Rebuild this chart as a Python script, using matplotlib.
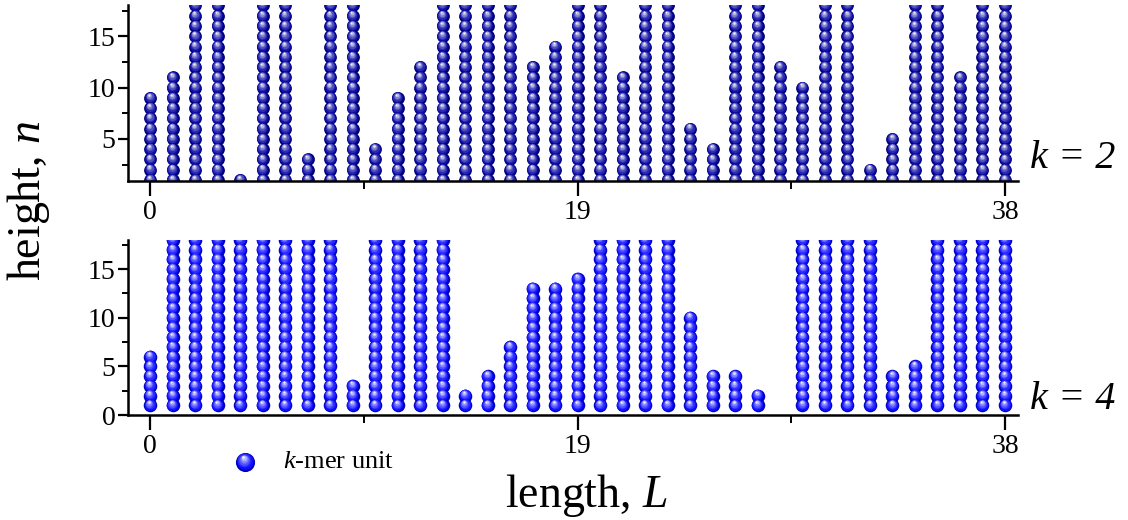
import numpy as np
import matplotlib
matplotlib.use("Agg")
import matplotlib.pyplot as plt
from matplotlib import transforms
from matplotlib.colors import to_rgb

plt.rcParams['font.family'] = ['Liberation Serif', 'DejaVu Serif']
plt.rcParams['mathtext.fontset'] = 'custom'
plt.rcParams['mathtext.rm'] = 'Liberation Serif'
plt.rcParams['mathtext.it'] = 'Liberation Serif:italic'

# column heights; F = column runs past the top of the plot
F = 20
lengths = np.arange(0, 39)
heights_k2 = [9, 11, F, F, 1, F, F, 3, F, F, 4, 9, 12, F, F, F, F, 12, 14, F,
              F, 11, F, F, 6, 4, F, F, 12, 10, F, F, 2, 5, F, F, 11, F, F]
heights_k4 = [6, F, F, F, F, F, F, F, F, 3, F, F, F, F, 2, 4, 7, 13, 13, 14,
              F, F, F, F, 10, 4, 4, 2, 0, F, F, F, F, 4, 5, F, F, F, F]
x_ticks = [0, 19, 38]
x_minor = [9.5, 28.5]
panel_labels = ['k = 2', 'k = 4']

fig = plt.figure(figsize=(11.28, 5.2), dpi=100)
ax1 = fig.add_axes([0.1135, 0.652, 0.789, 0.3385])
ax2 = fig.add_axes([0.1135, 0.2019, 0.789, 0.3366])


def draw_spheres(ax, xs, ys, base, size, transform=None, clip=True):
    # fake a shaded sphere: stacked discs getting lighter toward the highlight
    if transform is None:
        transform = ax.transData
    base = np.array(to_rgb(base))
    white = np.array([1.0, 1.0, 1.0])
    d = np.sqrt(size)  # diameter in points
    nl = 7
    for k in range(nl):
        f = 1 - k / nl
        t = (k / (nl - 1)) ** 1.6 * 0.95
        col = base * (1 - t) + white * t
        if k == 0:
            col = base * 0.75
        off = transforms.ScaledTranslation(-0.10 * d * (1 - f) / 72,
                                           0.30 * d * (1 - f) / 72,
                                           fig.dpi_scale_trans)
        ax.scatter(xs, ys, s=size * f * f, color=col, linewidths=0,
                   transform=transform + off, clip_on=clip, zorder=3 + k)


def draw_panel(ax, heights, base, size, ylim, yticks, label, label_y):
    xs, ys = [], []
    for x, h in zip(lengths, heights):
        for n in range(1, h + 1):
            xs.append(x)
            ys.append(n)
    draw_spheres(ax, xs, ys, base, size)
    ax.set_xlim(-0.98, 38.58)
    ax.set_ylim(*ylim)
    ax.set_xticks(x_ticks)
    ax.set_xticks(x_minor, minor=True)
    ax.set_yticks(yticks)
    ax.set_yticks([2.5, 7.5, 12.5, 17.5], minor=True)
    for s in ['top', 'right']:
        ax.spines[s].set_visible(False)
    for s in ['left', 'bottom']:
        ax.spines[s].set_linewidth(1.8)
        ax.spines[s].set_zorder(20)
    ax.tick_params(axis='both', which='major', direction='out', width=1.6,
                   labelsize=20)
    ax.tick_params(axis='y', which='major', length=7, pad=2)
    ax.tick_params(axis='y', which='minor', length=4, width=1.4)
    ax.tick_params(axis='x', which='major', length=11, pad=3)
    ax.tick_params(axis='x', which='minor', length=6, width=1.4)
    ax.text(1.013, label_y, label, transform=ax.transAxes,
            fontsize=29, fontstyle='italic', va='center', ha='left')


draw_panel(ax1, heights_k2, '#0000a0', 85, (0.9, 18.05), [5, 10, 15], panel_labels[0], 0.13)
draw_panel(ax2, heights_k4, '#0000ff', 95, (0, 18), [0, 5, 10, 15], panel_labels[1], 0.09)

# legend entry
draw_spheres(ax2, [245 / 1128], [1 - 462 / 520], '#0000ff', 190,
             transform=fig.transFigure, clip=False)
fig.text(283 / 1128, 1 - 462 / 520, '$k$-mer unit', fontsize=19, va='center', ha='left')

fig.text(586 / 1128, 1 - 507 / 520, 'length, $L$', fontsize=33, ha='center', va='baseline')
fig.text(28 / 1128, 1 - 201 / 520, 'height, $n$', fontsize=33, ha='center', va='center',
         rotation=90)

fig.savefig('out.png', dpi=100)
